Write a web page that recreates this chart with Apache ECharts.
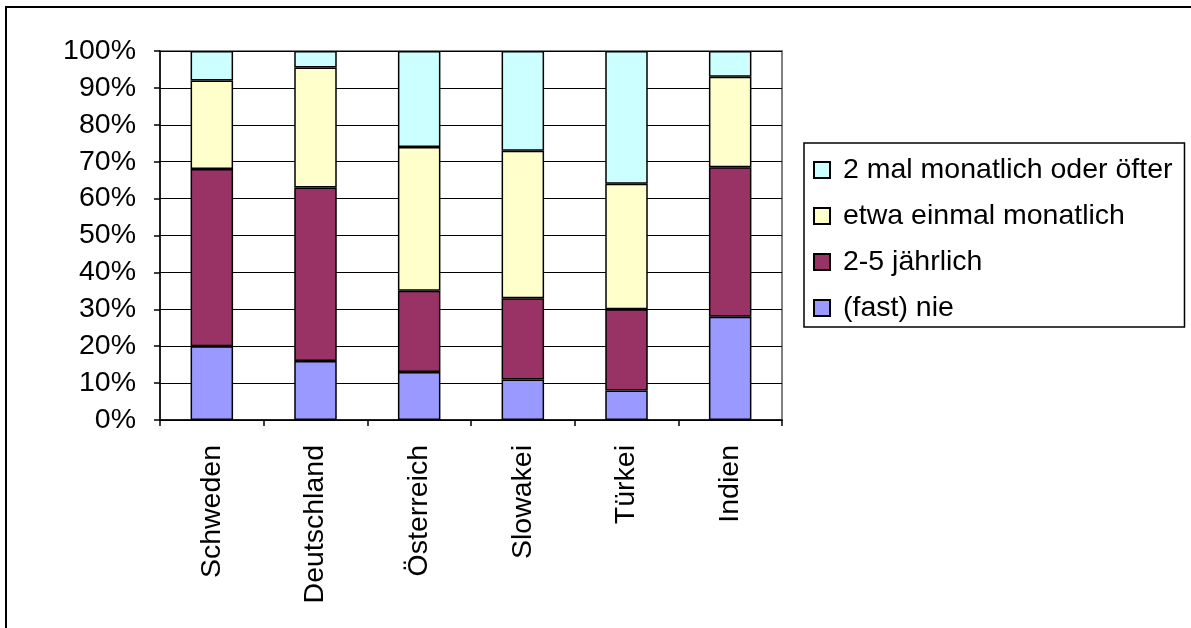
<!DOCTYPE html>
<html>
<head>
<meta charset="utf-8">
<script src="https://cdn.jsdelivr.net/npm/echarts@6/dist/echarts.min.js"></script>
<style>
html,body{margin:0;padding:0;background:#fff;}
#chart{width:1191px;height:628px;}
</style>
</head>
<body>
<div id="chart"></div>
<script>
const categories = ['Schweden', 'Deutschland', 'Österreich', 'Slowakei', 'Türkei', 'Indien'];
const seriesNames = ['(fast) nie', '2-5 jährlich', 'etwa einmal monatlich', '2 mal monatlich oder öfter'];
const fastNie = [20, 16, 13, 11, 8, 28];
const jaehrlich = [48, 47, 22, 22, 22, 40.5];
const einmalMonatlich = [24, 32.5, 39, 40, 34, 24.5];
const zweiMalMonatlich = [8, 4.5, 26, 27, 36, 7];
const seriesValues = [fastNie, jaehrlich, einmalMonatlich, zweiMalMonatlich];
const seriesColors = ['#9999FF', '#993366', '#FFFFCC', '#CCFFFF'];

const FONT = 'Liberation Sans, Arial, sans-serif';
const FS = 28.5;

const chart = echarts.init(document.getElementById('chart'), null, {renderer: 'canvas'});
chart.setOption({
  animation: false,
  backgroundColor: '#fff',
  graphic: [{
    type: 'rect',
    shape: {x: 6, y: 7, width: 1400, height: 800},
    style: {fill: 'none', stroke: '#000', lineWidth: 2},
    silent: true,
    z: 100
  }],
  grid: {
    left: 160, right: 409, top: 51, bottom: 208,
    show: true, borderColor: '#808080', borderWidth: 2, backgroundColor: '#fff'
  },
  legend: {
    orient: 'vertical',
    left: 804, top: 143,
    data: seriesNames.slice().reverse(),
    icon: 'rect',
    itemWidth: 16, itemHeight: 16,
    itemGap: 16,
    padding: [12, 12, 4, 9],
    borderColor: '#000', borderWidth: 1.5,
    textStyle: {fontSize: FS, fontFamily: FONT, color: '#000', padding: [0, 0, 0, 8], lineHeight: 30}
  },
  xAxis: {
    type: 'category',
    data: categories,
    axisLine: {show: true, lineStyle: {color: '#000', width: 1.5}},
    axisTick: {show: true, length: 6, lineStyle: {color: '#000', width: 1.5}},
    axisLabel: {rotate: 90, margin: 25, fontSize: FS, fontFamily: FONT, color: '#000'},
    splitLine: {show: false}
  },
  yAxis: {
    type: 'value',
    min: 0, max: 100, interval: 10,
    axisLine: {show: true, lineStyle: {color: '#000', width: 1.5}},
    axisTick: {show: true, length: 6, lineStyle: {color: '#000', width: 1.5}},
    axisLabel: {formatter: '{value}%', margin: 24, fontSize: FS, fontFamily: FONT, color: '#000'},
    splitLine: {show: true, lineStyle: {color: '#000', width: 1}}
  },
  series: seriesNames.map((name, i) => ({
    name: name,
    type: 'bar',
    stack: 'total',
    barWidth: '41%',
    data: seriesValues[i],
    itemStyle: {color: seriesColors[i], borderColor: '#000', borderWidth: 1.5}
  }))
});
</script>
</body>
</html>
